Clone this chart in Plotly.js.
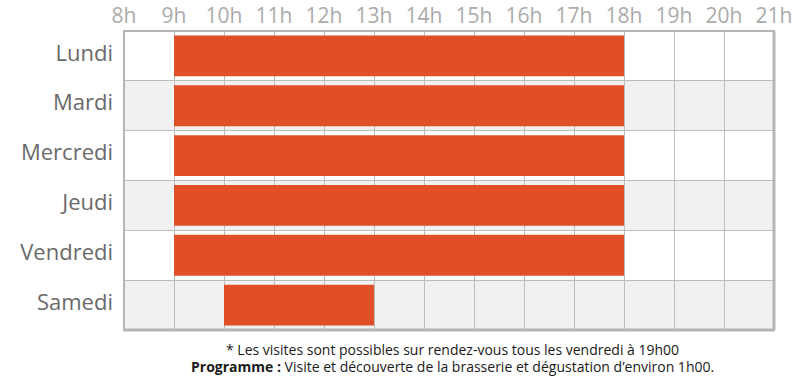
<!DOCTYPE html>
<html><head><meta charset="utf-8">
<script src="https://cdn.plot.ly/plotly-3.0.1.min.js"></script>
<style>html,body{margin:0;padding:0;background:#fff;}#chart{width:800px;height:384px;}</style>
</head><body><div id="chart"></div>
<script>
const days = ["Lundi","Mardi","Mercredi","Jeudi","Vendredi","Samedi"];
const openHour = [9,9,9,9,9,10];
const closeHour = [18,18,18,18,18,13];
const hourTicks = [8,9,10,11,12,13,14,15,16,17,18,19,20,21];
const hourLabels = ["8h","9h","10h","11h","12h","13h","14h","15h","16h","17h","18h","19h","20h","21h"];
const note1 = "* Les visites sont possibles sur rendez-vous tous les vendredi à 19h00";
const note2 = "<b>Programme :</b> Visite et découverte de la brasserie et dégustation d’environ 1h00.";

const font = "'Open Sans', sans-serif";
const shapes = [];
days.forEach((d,i)=>{ if(i%2===1) shapes.push({type:'rect',layer:'below',xref:'paper',x0:0,x1:1,yref:'y',y0:i-0.5,y1:i+0.5,fillcolor:'#f1f1f1',line:{width:0}}); });
// frame
shapes.push({type:'rect',xref:'paper',yref:'paper',x0:0,x1:1,y0:0,y1:1,line:{color:'#b5b5b5',width:2},layer:'above'});
shapes.push({type:'line',xref:'paper',yref:'paper',x0:1,x1:1,y0:0,y1:1,line:{color:'#b5b5b5',width:3},layer:'above',xshift:1});
shapes.push({type:'line',xref:'paper',yref:'paper',x0:0,x1:1,y0:0,y1:0,line:{color:'#b5b5b5',width:3},layer:'above',yshift:-1});

const trace = {
  type:'bar', orientation:'h',
  y: days.map((d,i)=>i),
  base: openHour,
  x: closeHour.map((c,i)=>c-openHour[i]),
  width: 0.82,
  marker:{color:'#e14f26', line:{width:0}},
  hoverinfo:'skip'
};
const layout = {
  width:800, height:384,
  margin:{l:124,r:26,t:31,b:54},
  paper_bgcolor:'#fff', plot_bgcolor:'rgba(0,0,0,0)',
  showlegend:false,
  xaxis:{side:'top', range:[8,21], tickvals:hourTicks, ticktext:hourLabels, showgrid:true, gridcolor:'#bdbdbd', gridwidth:1,
    zeroline:false, showline:false, ticks:'', ticklabelstandoff:3,
    tickfont:{family:font,size:21,color:'#ababab'}, fixedrange:true},
  yaxis:{range:[5.5,-0.5], tickvals:days.map((d,i)=>i), ticktext:days, showgrid:false, zeroline:false, ticks:'',
    ticklabelstandoff:10, ticklabelshift:3,
    minor:{tick0:0.5,dtick:1,showgrid:true,gridcolor:'#bdbdbd',gridwidth:1,ticks:''},
    tickfont:{family:font,size:22,color:'#6a6a6a'}, fixedrange:true},
  shapes: shapes,
  annotations:[
    {xref:'paper',yref:'paper',x:0.505,y:-0.065,yanchor:'middle',xanchor:'center',showarrow:false,text:note1,font:{family:font,size:14,color:'#1a1a1a'}},
    {xref:'paper',yref:'paper',x:0.505,y:-0.122,yanchor:'middle',xanchor:'center',showarrow:false,text:note2,font:{family:font,size:14,color:'#1a1a1a'}}
  ]
};
Plotly.newPlot('chart',[trace],layout,{displayModeBar:false,staticPlot:true});
</script></body></html>
